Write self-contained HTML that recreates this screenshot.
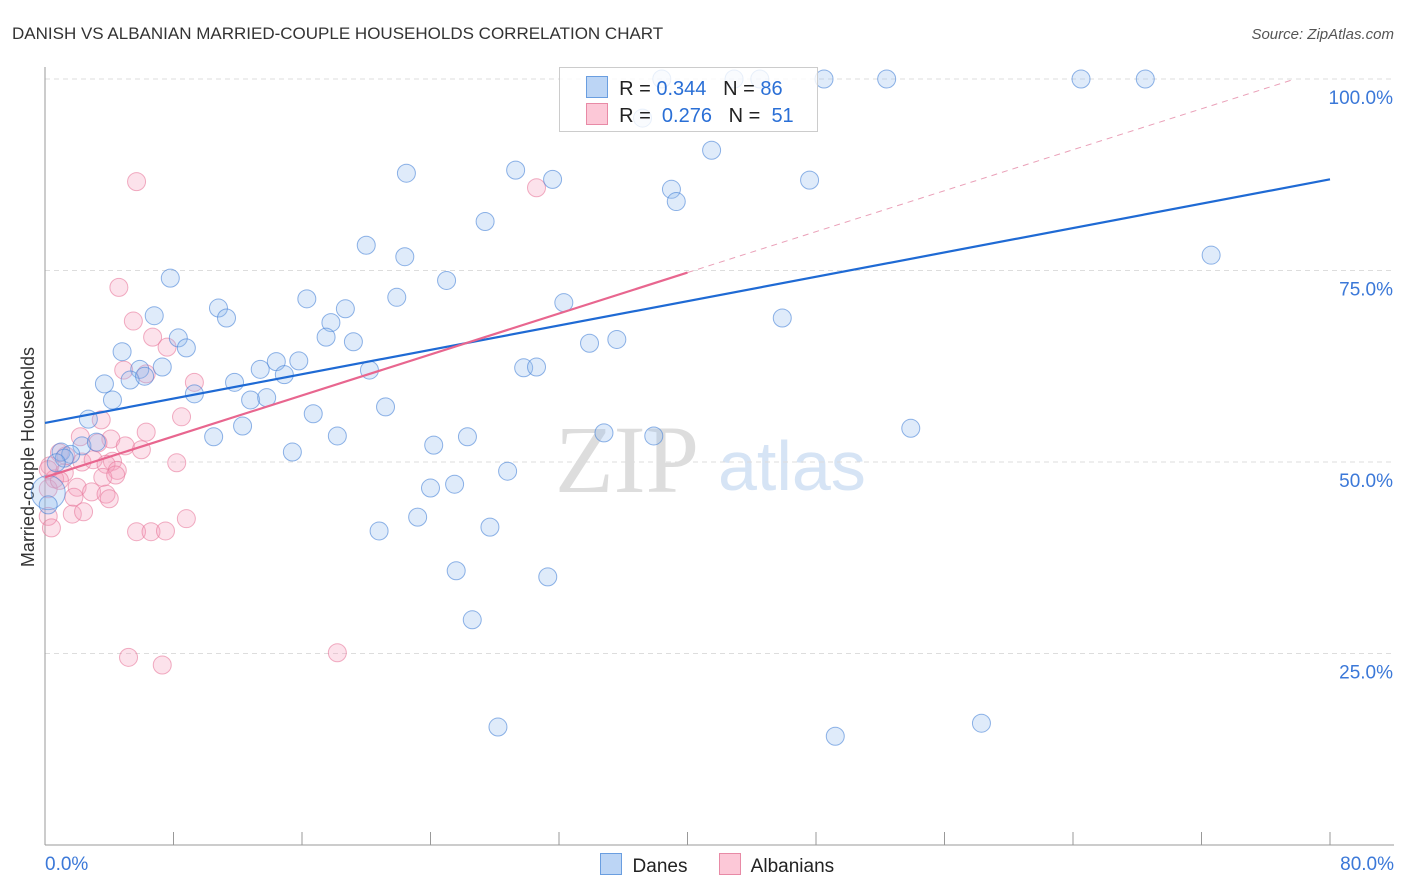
<!DOCTYPE html>
<html><head><meta charset="utf-8"><style>
body{margin:0;background:#fff;font-family:"Liberation Sans",sans-serif;}
#wrap{position:relative;width:1406px;height:892px;overflow:hidden;}
</style></head><body>
<div id="wrap">
<svg id="svg" width="1406" height="892" xmlns="http://www.w3.org/2000/svg">
<text x="12" y="39" font-size="17" fill="#333">DANISH VS ALBANIAN MARRIED-COUPLE HOUSEHOLDS CORRELATION CHART</text>
<text x="1394" y="39" font-size="15" fill="#555" font-style="italic" text-anchor="end">Source: ZipAtlas.com</text>
<text transform="translate(34,457) rotate(-90)" font-size="18" fill="#333" text-anchor="middle">Married-couple Households</text>
<text x="555" y="492" font-size="96" fill="#ddd" font-family="Liberation Serif,serif">ZIP</text>
<text x="718" y="490" font-size="70" fill="#d6e4f5">atlas</text>
<g id="grid"></g><g id="axes"></g><g id="pts"></g><g id="lines"></g>
</svg>
<div style="position:absolute;left:559px;top:67px;width:257px;height:63px;border:1px solid #ccc;background:rgba(255,255,255,0.8);font-size:20px;color:#222;">
 <div style="position:absolute;left:26px;top:8px;white-space:pre"><span style="display:inline-block;width:20px;height:20px;background:#bcd5f5;border:1px solid #6a9ee0;vertical-align:-3px"></span>  R = <span style="color:#2a6fd6">0.344</span>   N = <span style="color:#2a6fd6">86</span></div>
 <div style="position:absolute;left:26px;top:35px;white-space:pre"><span style="display:inline-block;width:20px;height:20px;background:#fcc8d7;border:1px solid #e88aa6;vertical-align:-3px"></span>  R =  <span style="color:#2a6fd6">0.276</span>   N =  <span style="color:#2a6fd6">51</span></div>
</div>
<div style="position:absolute;left:600px;top:853px;font-size:19px;line-height:22px;color:#222;white-space:pre"><span><span style="display:inline-block;width:20px;height:20px;background:#bcd5f5;border:1px solid #6a9ee0;vertical-align:-3px"></span>  Danes</span>      <span><span style="display:inline-block;width:20px;height:20px;background:#fcc8d7;border:1px solid #e88aa6;vertical-align:-3px"></span>  Albanians</span></div>
</div>
<script>
const NS="http://www.w3.org/2000/svg";
const xTicks=[0,8,16,24,32,40,48,56,64,72,80];
const yTicks=[25,50,75,100];
const danesX=[38.4,42.9,44.5,48.5,52.4,64.5,68.5,37.2,41.5,22.5,29.3,31.6,47.6,39.0,39.3,27.4,20.0,22.4,72.6,7.8,25.0,16.3,21.9,32.3,10.8,18.7,11.3,6.8,17.8,45.9,17.5,8.3,19.2,35.6,33.9,8.8,4.8,15.8,14.4,5.9,7.3,20.2,29.8,30.6,14.9,13.4,5.3,6.2,3.7,11.8,9.3,12.8,13.8,4.2,21.2,16.7,2.7,12.3,53.9,34.8,10.5,18.2,26.3,37.9,24.2,2.3,3.2,15.4,1.0,1.6,1.2,28.8,0.7,24.0,25.5,0.2,0.2,23.2,27.7,20.8,25.6,31.3,26.6,28.2,49.2,58.3];
const danesY=[100,100,100,100,100,100,100,94.9,90.7,87.7,88.1,86.9,86.8,85.6,84.0,81.4,78.3,76.8,77.0,74.0,73.7,71.3,71.5,70.8,70.1,70.0,68.8,69.1,68.2,68.8,66.3,66.2,65.7,66.0,65.5,64.9,64.4,63.2,63.1,62.1,62.4,62.0,62.3,62.4,61.4,62.1,60.7,61.2,60.2,60.4,58.9,58.1,58.4,58.1,57.2,56.3,55.6,54.7,54.4,53.8,53.3,53.4,53.3,53.4,52.2,52.1,52.6,51.3,51.3,51.0,50.5,48.8,49.9,46.6,47.1,46.0,44.4,42.8,41.5,41.0,35.8,35.0,29.4,15.4,14.2,15.9];
const albX=[5.7,30.6,4.6,5.5,6.7,7.6,4.9,6.3,9.3,8.5,3.5,6.3,2.2,4.1,5.0,3.3,6.0,0.9,1.3,2.3,3.0,4.2,0.3,1.2,3.8,4.5,3.6,4.4,8.2,0.6,2.0,2.9,1.8,3.8,4.0,0.2,0.2,1.7,2.4,8.8,0.4,5.7,6.6,7.5,5.2,7.3,18.2,0.2,0.9];
const albY=[86.6,85.8,72.8,68.4,66.3,65.0,62.0,61.5,60.4,55.9,55.5,53.9,53.3,53.0,52.1,52.5,51.6,51.2,50.8,50.0,50.3,50.1,49.5,48.6,49.7,48.9,48.0,48.3,49.9,47.8,46.7,46.1,45.4,45.8,45.2,46.5,42.9,43.2,43.5,42.6,41.4,40.9,40.9,41.0,24.5,23.5,25.1,49.0,47.6];
const danesFit=[55.1,86.9];
const albFit=[48.0,100];
const X=v=>45+v/80*1285, Y=v=>845-v/100*766;
function mk(t,a,p){const e=document.createElementNS(NS,t);for(const k in a)e.setAttribute(k,a[k]);p.appendChild(e);return e;}
const grid=document.getElementById('grid'),axes=document.getElementById('axes'),pts=document.getElementById('pts'),lines=document.getElementById('lines');
yTicks.forEach(t=>{
 const g=mk('line',{x1:45,x2:1394,y1:Y(t),y2:Y(t),stroke:'#ddd','stroke-dasharray':'5,4'},grid);
 
 
 const l=mk('text',{x:1393,y:Y(t)+25,'text-anchor':'end','font-size':19,fill:'#3b78d8'},axes);
 l.textContent=t.toFixed(1)+'%';
 
 
});
const ya=mk('line',{x1:45,x2:45,y1:67,y2:845,stroke:'#999'},axes);


const xa=mk('line',{x1:45,x2:1394,y1:845,y2:845,stroke:'#999'},axes);


xTicks.forEach(t=>{
 const tk=mk('line',{x1:X(t),x2:X(t),y1:832,y2:845,stroke:'#999'},axes);
 
 
});
[[0,'start',45],[80,'end',1394]].forEach(([t,a,x])=>{
 const l=mk('text',{x:x,y:870,'text-anchor':a,'font-size':19,fill:'#3b78d8'},axes);
 l.textContent=t.toFixed(1)+'%';
 
 
});
albX.forEach((v,i)=>{
 const c=mk('circle',{cx:X(v),cy:Y(albY[i]),r:9,fill:'rgba(246,160,188,0.3)',stroke:'rgba(232,120,155,0.6)','stroke-width':1},pts);
 
 
});
danesX.forEach((v,i)=>{
 const c=mk('circle',{cx:X(v),cy:Y(danesY[i]),r:(i==75?17:9),fill:'rgba(150,190,240,0.3)',stroke:'rgba(70,130,215,0.6)','stroke-width':1},pts);
 
 
});
const bl=mk('line',{x1:X(0),y1:Y(danesFit[0]),x2:X(80),y2:Y(danesFit[1]),stroke:'#1f6ad4','stroke-width':2.2},lines);


const sl=(albFit[1]-albFit[0])/((1295-45)/1285*80);
const pl=mk('line',{x1:X(0),y1:Y(albFit[0]),x2:X(40),y2:Y(albFit[0]+sl*40),stroke:'#e8668f','stroke-width':2.2},lines);


const pd=mk('line',{x1:X(40),y1:Y(albFit[0]+sl*40),x2:1295,y2:Y(albFit[1]),stroke:'#eaa0b8','stroke-width':1,'stroke-dasharray':'6,5'},lines);


</script>
</body></html>
